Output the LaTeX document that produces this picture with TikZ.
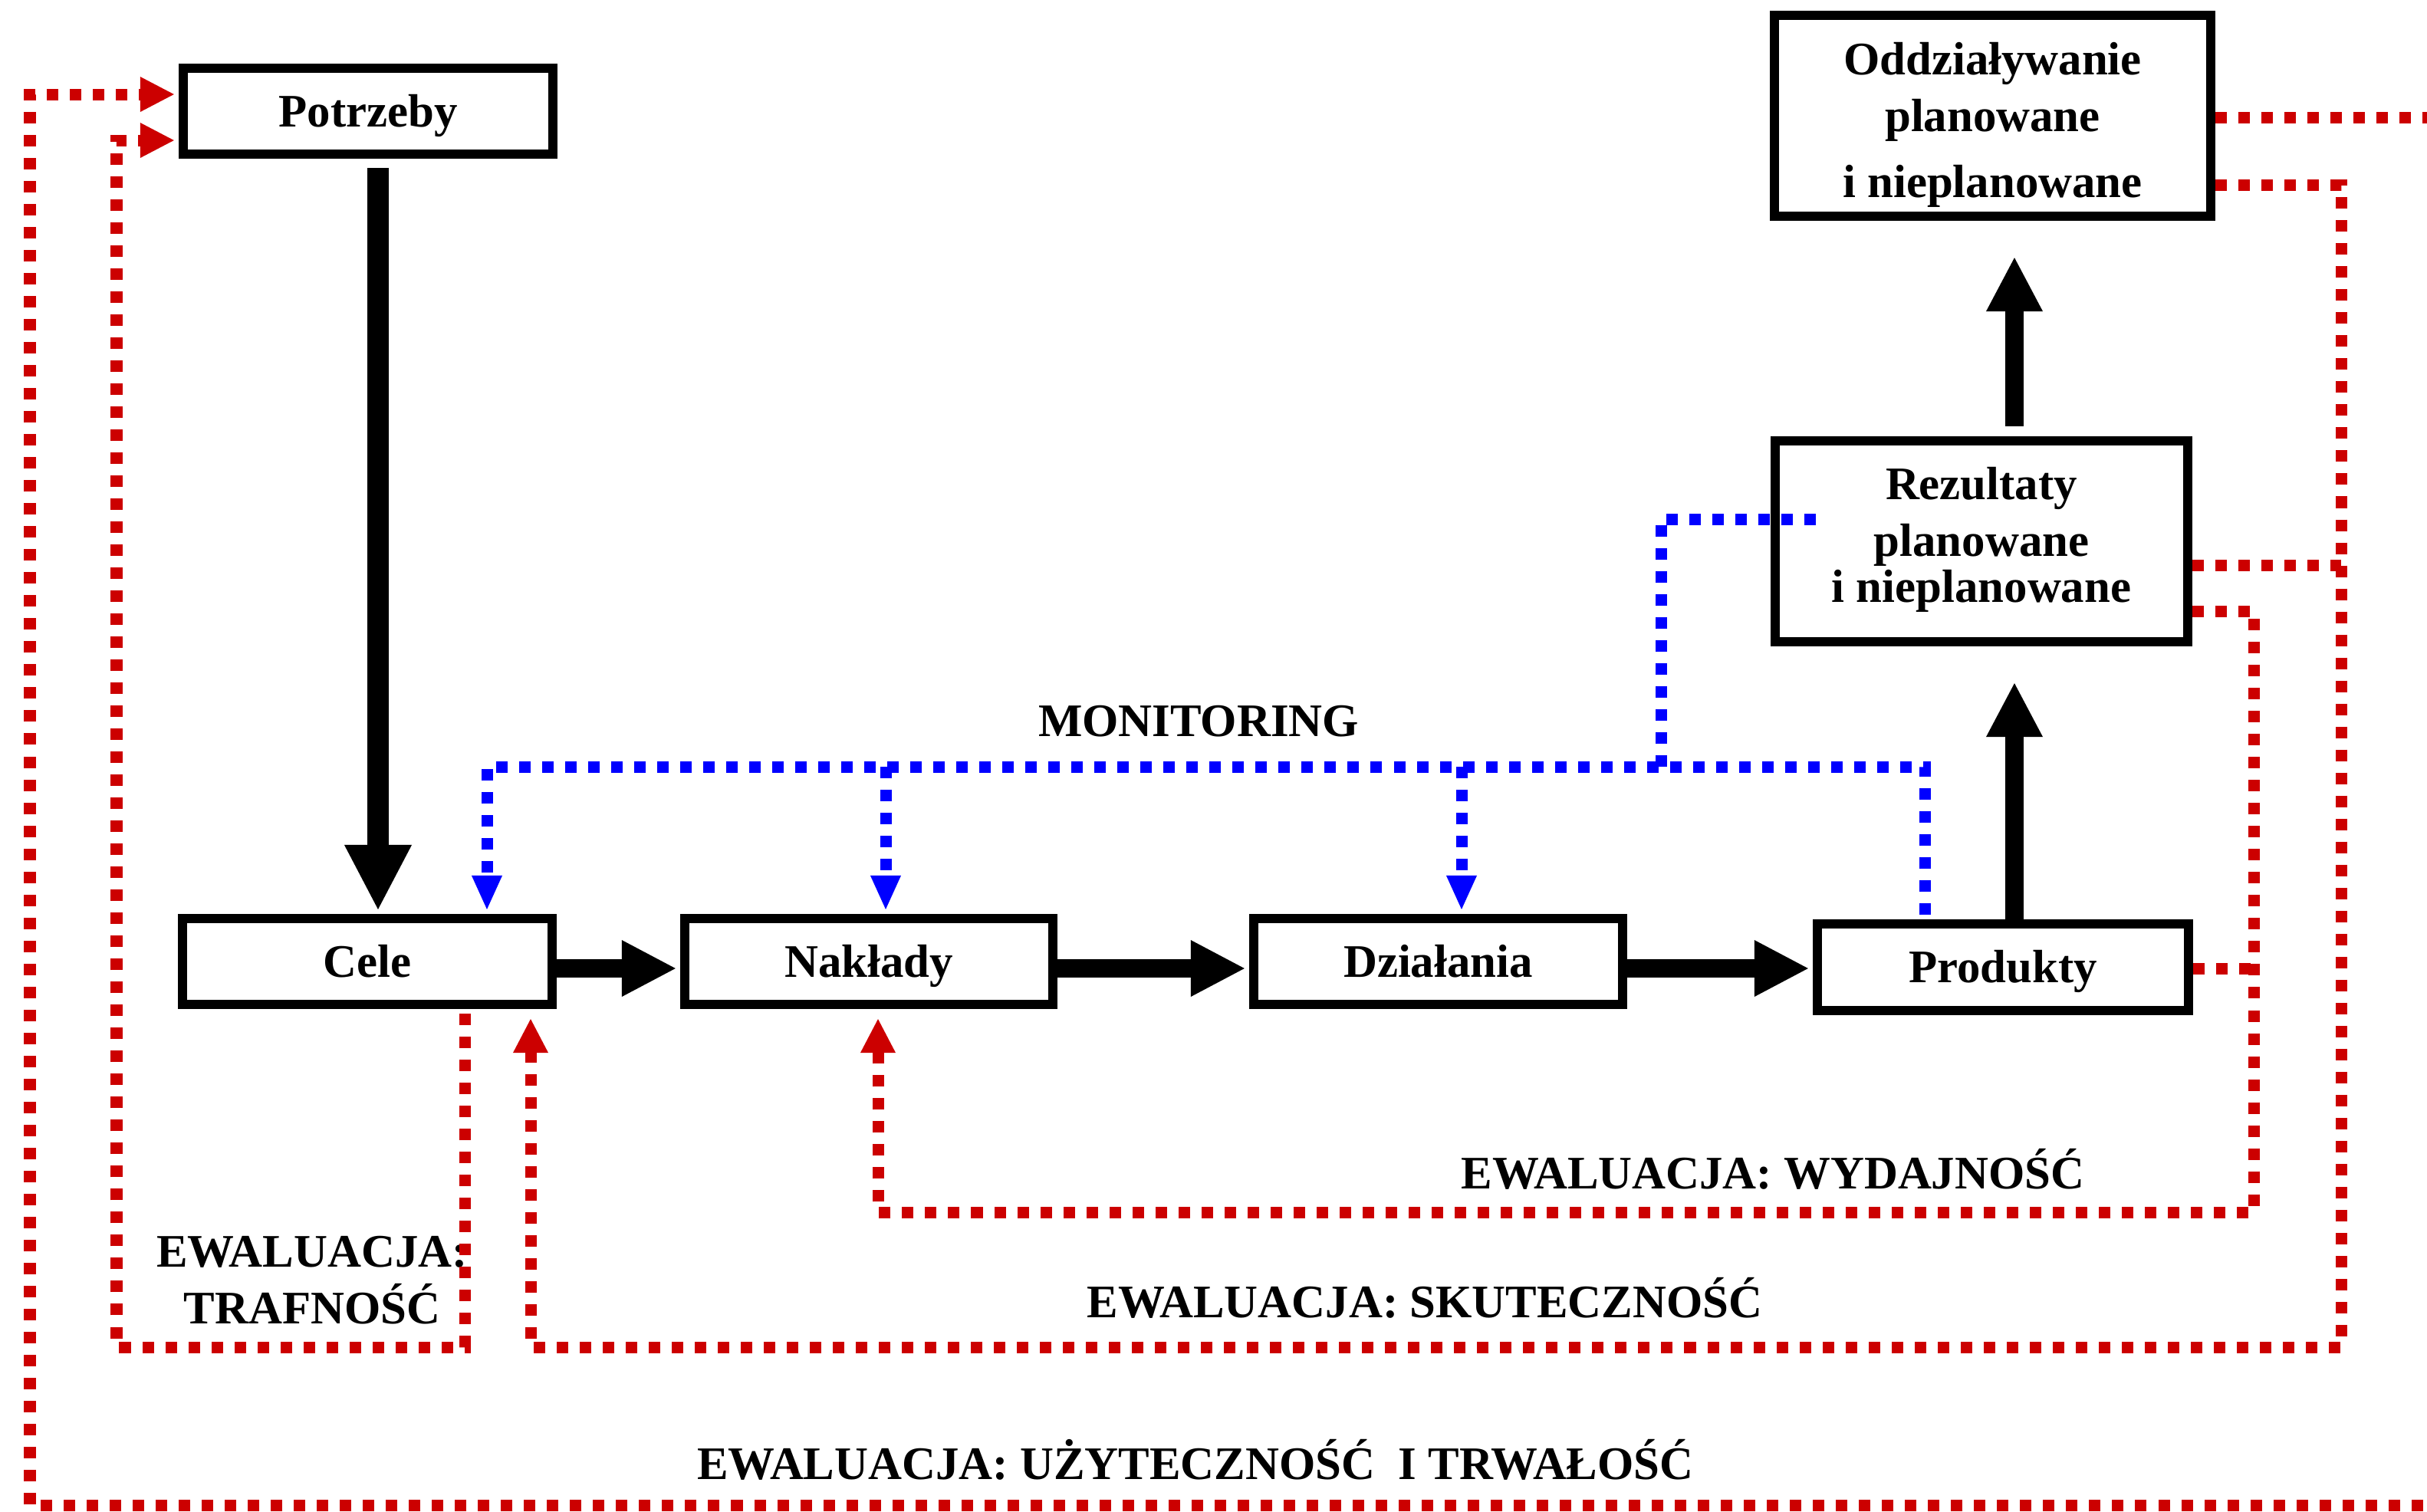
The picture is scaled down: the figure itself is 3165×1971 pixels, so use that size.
\documentclass[tikz,border=0pt]{standalone}
\usepackage{fontspec}
\setmainfont{Liberation Serif}
\usetikzlibrary{arrows.meta,calc}
\definecolor{evred}{RGB}{204,0,0}
\definecolor{monblue}{RGB}{0,0,255}
\begin{document}
\begin{tikzpicture}[x=0.01cm,y=-0.01cm,
  every node/.style={font=\fontsize{17.3pt}{21pt}\selectfont\bfseries},
  box/.style={draw,line width=0.12cm,inner sep=0pt,minimum width=4.82cm,minimum height=1.12cm,text height=0.4cm,text depth=0pt},
  bigbox/.style={draw,line width=0.12cm,inner sep=0pt,align=center},
  flow/.style={line width=0.24cm,-{Triangle[length=0.70cm,width=0.74cm,line width=0pt]}},
  bigflow/.style={line width=0.28cm,-{Triangle[length=0.84cm,width=0.88cm,line width=0pt]}},
  mon/.style={monblue,line width=0.15cm,dash pattern=on 0.15cm off 0.15cm,line cap=butt,line join=miter},
  monarr/.style={mon,-{Triangle[length=0.44cm,width=0.40cm,line width=0pt]}},
  ev/.style={evred,line width=0.15cm,dash pattern=on 0.15cm off 0.15cm,line cap=butt,line join=miter},
  evarr/.style={ev,-{Triangle[length=0.44cm,width=0.46cm,line width=0pt]}},
  lab/.style={anchor=base,inner sep=0pt}
]
\useasboundingbox (0,0) rectangle (3165,1971);

% boxes
\node[box] (potrzeby) at (480,145) {Potrzeby};
\node[box] (cele) at (479,1254) {Cele};
\node[box,minimum width=4.80cm] (naklady) at (1133,1254) {Nakłady};
\node[box,minimum width=4.81cm] (dzialania) at (1875.5,1254) {Działania};
\node[box,minimum width=4.84cm,minimum height=1.13cm] (produkty) at (2612,1261.5) {Produkty};
\node[bigbox,minimum width=5.38cm,minimum height=2.62cm] (rezultaty) at (2584,706)
  {\rule{0pt}{0.45cm}Rezultaty\\planowane\\[-3.7pt]i nieplanowane\rule[-0.2cm]{0pt}{0.2cm}};
\node[bigbox,minimum width=5.69cm,minimum height=2.62cm] (oddz) at (2598.5,151)
  {\rule{0pt}{0.68cm}Oddziaływanie\\planowane\\[3.4pt]i nieplanowane\rule[-0.15cm]{0pt}{0.15cm}};

% labels
\node[lab] (monlab) at (1563,960) {MONITORING};
\node[lab] (wyd) at (2312,1550) {EWALUACJA: WYDAJNOŚĆ};
\node[lab] (sku) at (1858,1718) {EWALUACJA: SKUTECZNOŚĆ};
\node[align=center,inner sep=0pt] (traf) at (407,1670) {EWALUACJA:\\TRAFNOŚĆ};
\node[lab] (uzy) at (1559,1929) {EWALUACJA: UŻYTECZNOŚĆ\ \ I TRWAŁOŚĆ};

% black flow arrows
\draw[bigflow] ($(potrzeby.south)+(13,12)$) -- ($(cele.north)+(14,-6)$);
\draw[flow] ($(cele.east)+(0,9)$) -- ($(naklady.west)+(-6,9)$);
\draw[flow] ($(naklady.east)+(0,9)$) -- ($(dzialania.west)+(-6,9)$);
\draw[flow] ($(dzialania.east)+(0,9)$) -- ($(produkty.west)+(-6,1.5)$);
\draw[flow] ($(produkty.north)+(15,0)$) -- ($(rezultaty.south)+(43,48)$);
\draw[flow] ($(rezultaty.north)+(43,-13)$) -- ($(oddz.south)+(28.5,48)$);

% red evaluation loops
\coordinate (cR) at (3215,1963);
\coordinate (cBL) at (39,1963);
\draw[evarr] ($(oddz.east)+(0,2)$) -| (cR) -- (cBL) |- ($(potrzeby.west)+(-6,-22)$);

\coordinate (c2R) at (3053,1757);
\coordinate (c2L) at (692,1757);
\draw[evarr] ($(oddz.east)+(0,90)$) -| (c2R) -- (c2L) -- ($(c2L |- cele.south)+(0,13)$);
\coordinate (r2) at ($(rezultaty.east)+(0,31)$);
\draw[ev] (r2) -- (r2 -| c2R);

\coordinate (c3R) at (2939,1581);
\coordinate (c3L) at (1145,1581);
\draw[evarr] ($(rezultaty.east)+(0,91)$) -| (c3R) -- (c3L) -- ($(c3L |- naklady.south)+(0,13)$);
\coordinate (p3) at ($(produkty.east)+(0,2)$);
\draw[ev] (p3) -- (p3 -| c3R);

\coordinate (c4L) at (152,1757);
\draw[evarr] ($(cele.south)+(127,6)$) |- (c4L) |- ($(potrzeby.west)+(-6,38)$);

% blue monitoring
\coordinate (busW) at (635,1000);
\coordinate (busN) at (1155,1000);
\coordinate (busD) at (1906,1000);
\coordinate (busU) at (2166,1000);
\draw[monarr] ($(produkty.north)+(-102,-6)$) |- (busW) -- ($(busW |- cele.north)+(0,-6)$);
\draw[monarr] (busN) -- ($(busN |- naklady.north)+(0,-6)$);
\draw[monarr] (busD) -- ($(busD |- dzialania.north)+(0,-6)$);
\draw[mon] (busU) |- ($(rezultaty.west)+(74,-29)$);
\end{tikzpicture}
\end{document}
